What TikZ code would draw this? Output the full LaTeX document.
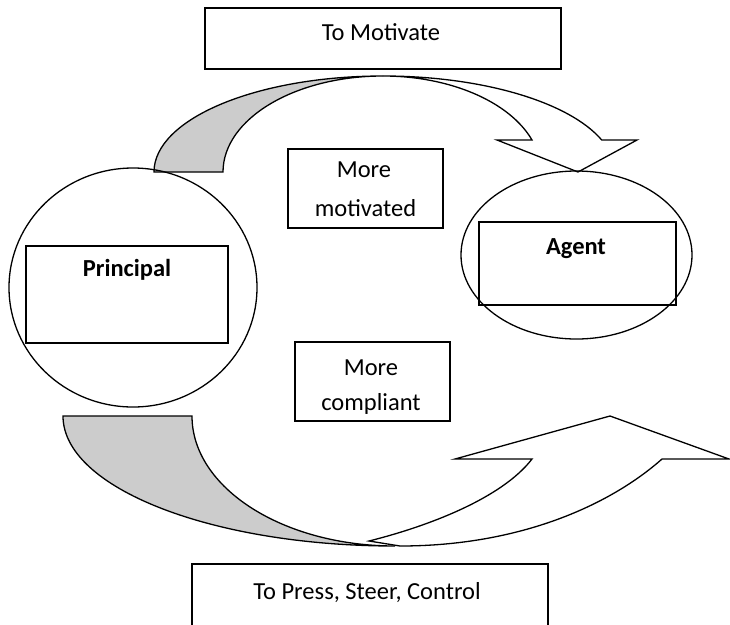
\documentclass[tikz,border=0pt]{standalone}
\usepackage{fontspec}
\setmainfont{Carlito}
\usetikzlibrary{shapes.geometric}
\definecolor{bandgray}{RGB}{204,204,204}

\begin{document}
\begin{tikzpicture}[x=1pt,y=-1pt,line width=1.3pt,
        box/.style={draw, rectangle, inner sep=0pt},
        oval/.style={draw, ellipse, inner sep=0pt},
        lbl/.style={anchor=base, inner sep=0pt, font=\fontsize{24.5}{30}\selectfont}]
        \useasboundingbox (0,0) rectangle (730,624);
        % top curved arrow: principal -> agent
        \filldraw[fill=bandgray] (154,172) arc[start angle=180,end angle=270,x radius=229,y radius=96]
            arc[start angle=270,end angle=180,x radius=160,y radius=96] -- cycle;
        \filldraw[fill=white] (383,76) arc[start angle=270,end angle=340.53,x radius=232,y radius=96]
            -- (637,140) -- (578,172) -- (497,140) -- (532,140)
            arc[start angle=340.53,end angle=270,x radius=158,y radius=96] -- cycle;
        % bottom curved arrow
        \filldraw[fill=bandgray] (63,416) arc[start angle=180,end angle=90,x radius=332,y radius=130]
            arc[start angle=90,end angle=180,x radius=203,y radius=130] -- cycle;
        \filldraw[fill=white] (369,541) .. controls (429,526) and (502,498) .. (532,459)
            -- (455,459) -- (610,416) -- (729,459) -- (662,459)
            .. controls (610,505) and (520,546) .. (400,546) -- cycle;
        \node (principal) [oval, minimum width=248pt, minimum height=239pt] at (133,287.5) {};
        \node (prinbox) [box, minimum width=202pt, minimum height=97pt] at (127,294.5) {};
        \node (agent) [oval, minimum width=231pt, minimum height=168pt] at (576.5,255) {};
        \node (agentbox) [box, minimum width=197pt, minimum height=83pt] at (577.5,263.5) {};
        \node (motivate) [box, minimum width=356pt, minimum height=61pt] at (383,38.5) {};
        \node (motivated) [box, minimum width=155pt, minimum height=79pt] at (365.5,188.5) {};
        \node (compliant) [box, minimum width=155pt, minimum height=79pt] at (372.5,381.5) {};
        \node (press) [box, minimum width=356pt, minimum height=70pt] at (370,599) {};
        % texts
        \node (tmotivate) [lbl] at (381,40) {To Motivate};
        \node (tprincipal) [lbl] at (127,276) {\bfseries Principal};
        \node (tagent) [lbl] at (576,254) {\bfseries Agent};
        \node (tmore) [lbl] at (364,177) {More};
        \node (tmotivated) [lbl] at (365.5,216) {motivated};
        \node (tmore2) [lbl] at (371,375) {More};
        \node (tcompliant) [lbl] at (371,410) {compliant};
        \node (tpress) [lbl] at (367,599) {To Press, Steer, Control};
    \end{tikzpicture}
\end{document}
